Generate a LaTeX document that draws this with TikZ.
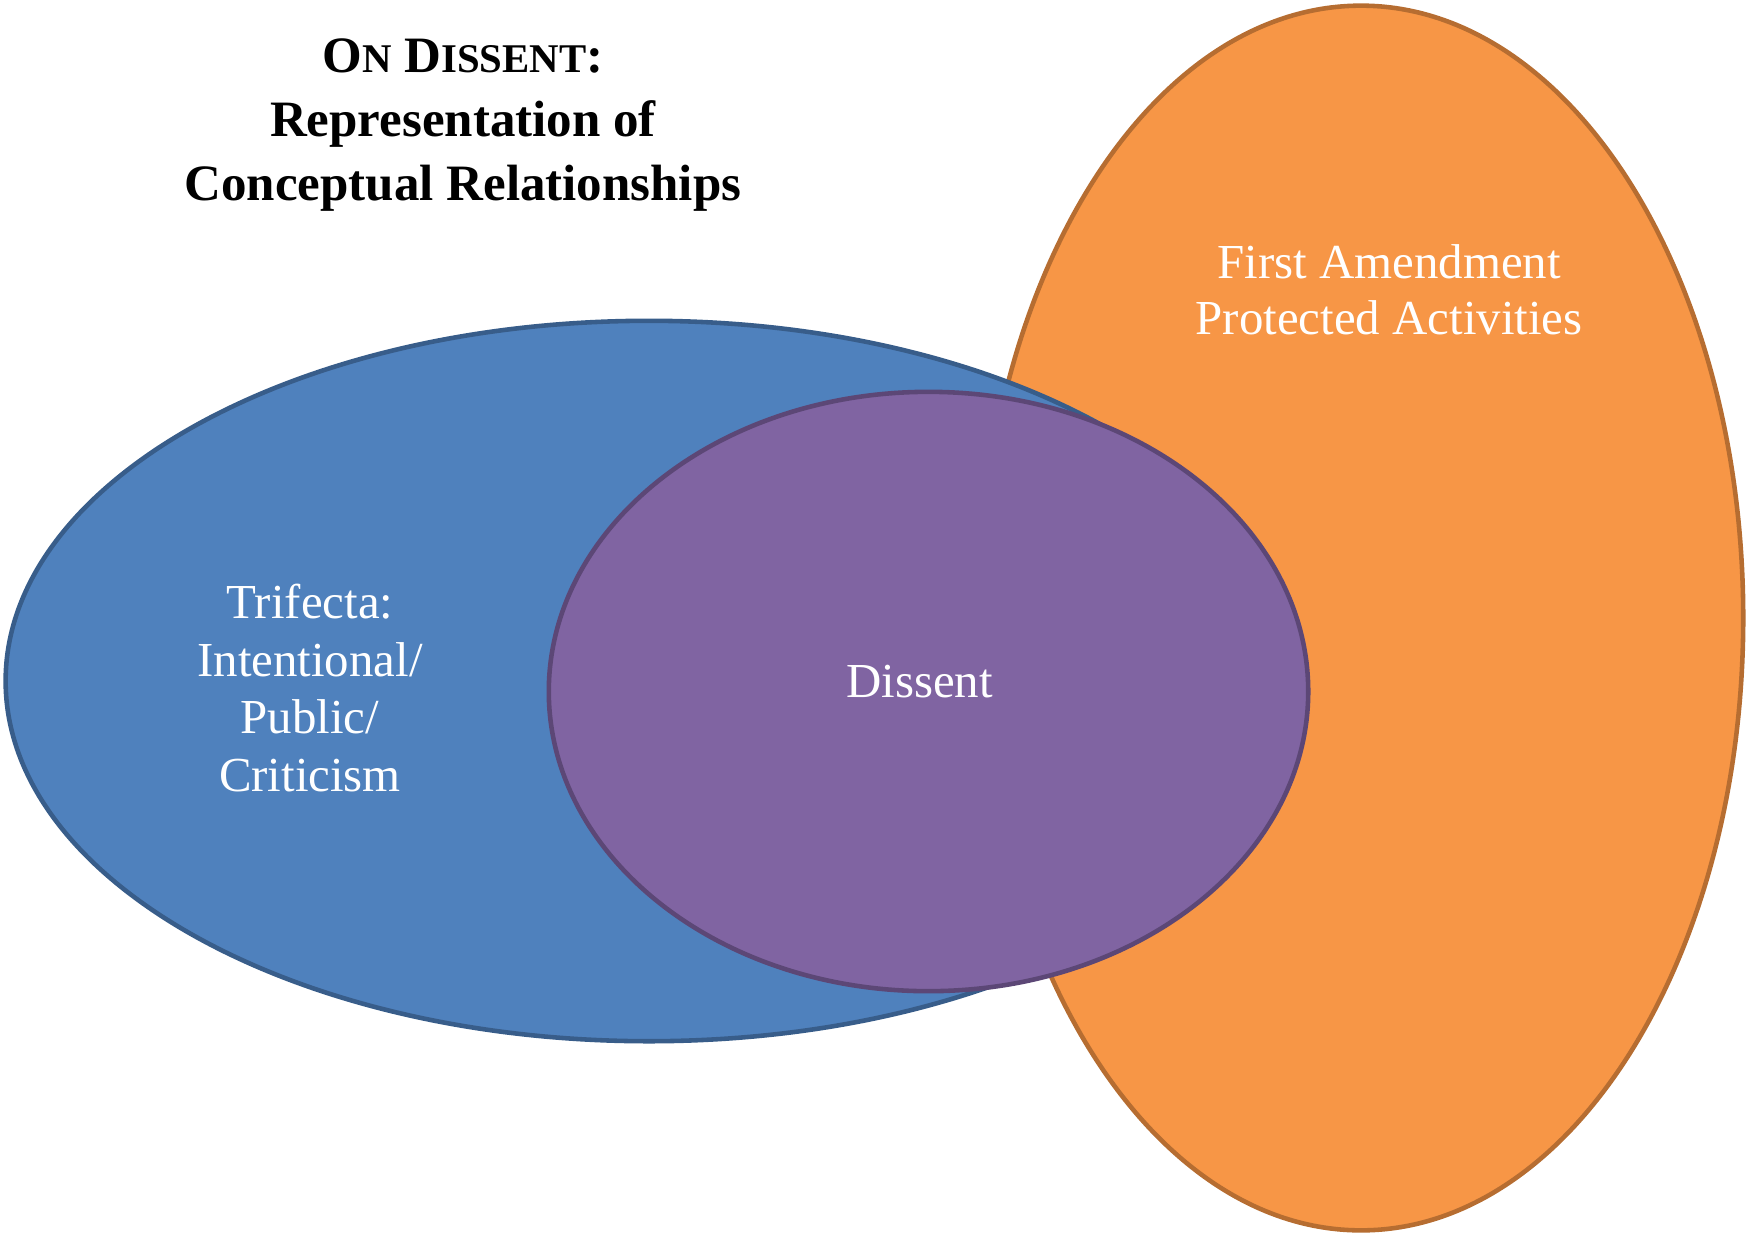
\documentclass[tikz,border=0pt]{standalone}
\usepackage{fontspec}
\setmainfont{Liberation Serif}
\usetikzlibrary{shapes.geometric}
\definecolor{bluefill}{HTML}{4F81BD}
\definecolor{blueline}{HTML}{385D8A}
\definecolor{orangefill}{HTML}{F79646}
\definecolor{orangeline}{HTML}{B66D31}
\definecolor{purplefill}{HTML}{8064A2}
\definecolor{purpleline}{HTML}{5C4776}
\tikzset{
  setshape/.style={ellipse, inner sep=0pt, line width=1.3pt},
  titleline/.style={anchor=base, inner sep=0pt, font=\bfseries\fontsize{14.5}{17}\selectfont},
  setlabel/.style={anchor=base, inner sep=0pt, text=white, font=\fontsize{13.9}{16}\selectfont}
}
\begin{document}
\begin{tikzpicture}[x=0.01cm,y=-0.01cm]
\useasboundingbox (0,0) rectangle (1746,1233);
% sets
\node[setshape, draw=orangeline, fill=orangefill, minimum width=7.64cm, minimum height=12.24cm] (orange) at (1361,618) {};
\node[setshape, draw=blueline, fill=bluefill, minimum width=12.86cm, minimum height=7.20cm] (blue) at (649,681) {};
\node[setshape, draw=purpleline, fill=purplefill, minimum width=7.59cm, minimum height=5.99cm] (purple) at (928.5,691.5) {};
% title
\node[titleline] (t1) at (463,72) {O{\fontsize{11.6}{14}\selectfont N} D{\fontsize{11.6}{14}\selectfont ISSENT}:};
\node[titleline] (t2) at (463,136) {Representation of};
\node[titleline] (t3) at (463,200) {Conceptual Relationships};
% labels
\node[setlabel] (fa1) at (1389,278) {First Amendment};
\node[setlabel] (fa2) at (1389,334) {Protected Activities};
\node[setlabel] (tr1) at (310,618) {Trifecta:};
\node[setlabel] (tr2) at (310,676) {Intentional/};
\node[setlabel] (tr3) at (310,733) {Public/};
\node[setlabel] (tr4) at (310,791) {Criticism};
\node[setlabel] (dis) at (919.5,697) {Dissent};
\end{tikzpicture}
\end{document}
